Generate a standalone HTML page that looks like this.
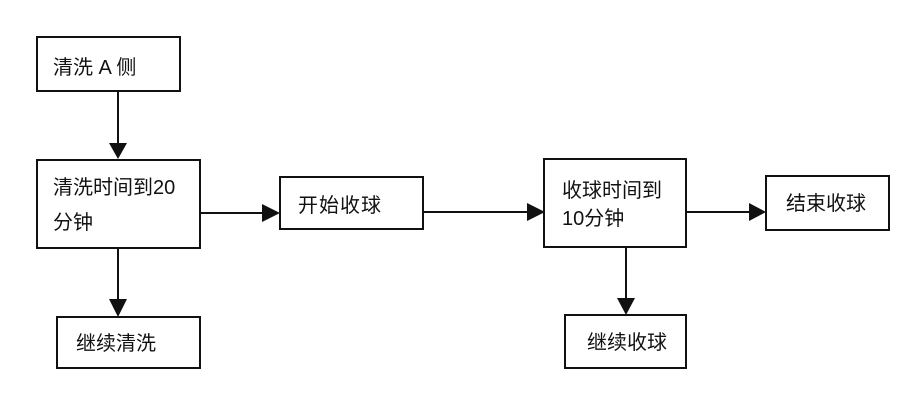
<!DOCTYPE html>
<html><head><meta charset="utf-8"><style>
html,body{margin:0;padding:0;background:#fff;}
svg{display:block;}
text{font-family:"Liberation Sans","Noto Sans CJK SC",sans-serif;font-size:20px;fill:#111;}
</style></head><body>
<svg width="908" height="402" viewBox="0 0 908 402" xmlns="http://www.w3.org/2000/svg">
<g fill="none" stroke="#111" stroke-width="2">
<rect x="37" y="37" width="143" height="54"/>
<rect x="37" y="160" width="163" height="88"/>
<rect x="57" y="317" width="143" height="51"/>
<rect x="280" y="177" width="143" height="52"/>
<rect x="544" y="159" width="142" height="88"/>
<rect x="766" y="176" width="123" height="54"/>
<rect x="565" y="315" width="121" height="53"/>
<line x1="118" y1="91" x2="118" y2="144"/>
<line x1="118" y1="248" x2="118" y2="300"/>
<line x1="200" y1="213" x2="263" y2="213"/>
<line x1="423" y1="212" x2="528" y2="212"/>
<line x1="686" y1="212" x2="750" y2="212"/>
<line x1="626" y1="247" x2="626" y2="299"/>
</g>
<g fill="#111">
<polygon points="109,143 127,143 118,159"/>
<polygon points="109,299 127,299 118,317"/>
<polygon points="262,204 262,222 280,213"/>
<polygon points="527,203 527,221 545,212"/>
<polygon points="749,203 749,221 766,212"/>
<polygon points="617,298 635,298 626,315"/>
</g>
<text x="53" y="74">清洗 A 侧</text>
<text x="53" y="194">清洗时间到20</text>
<text x="53" y="229">分钟</text>
<text x="76" y="350">继续清洗</text>
<text x="298" y="212" letter-spacing="1">开始收球</text>
<text x="562" y="197">收球时间到</text>
<text x="562" y="225">10分钟</text>
<text x="786" y="210">结束收球</text>
<text x="587" y="349">继续收球</text>
</svg>
</body></html>
